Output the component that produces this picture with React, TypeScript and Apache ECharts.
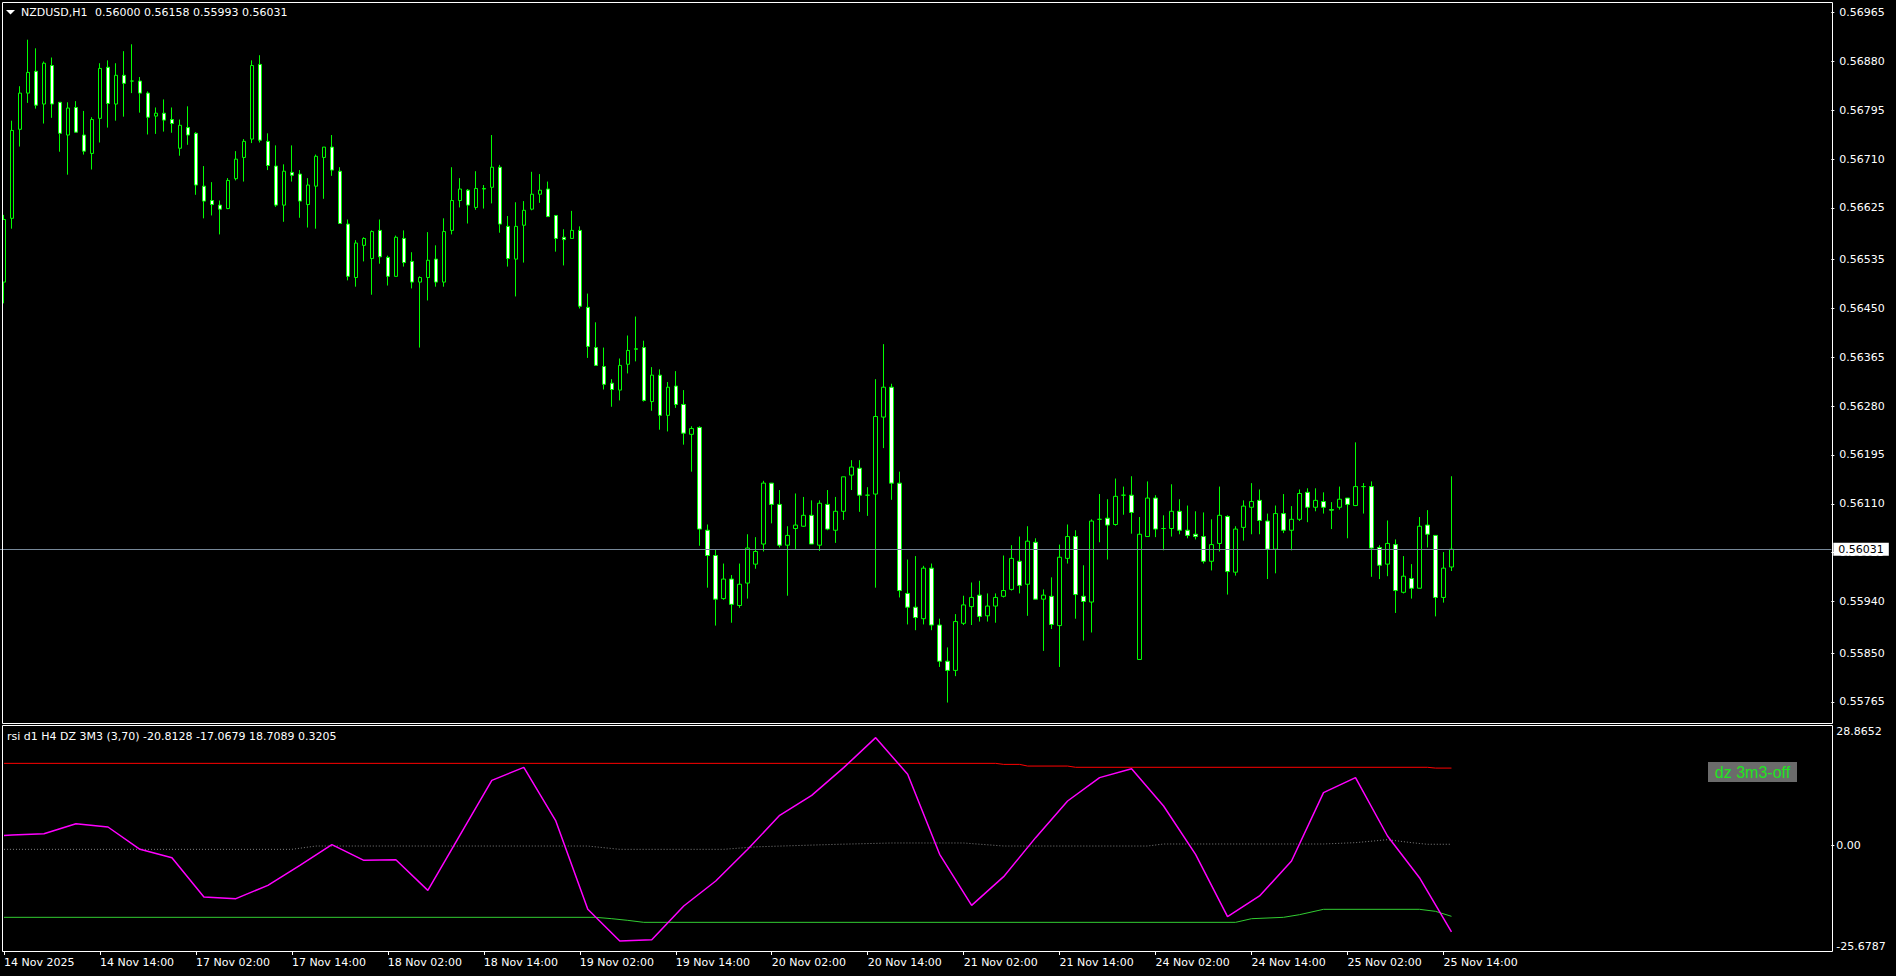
import React, { useEffect, useRef } from 'react';
import * as echarts from 'echarts';

// ---------- DATA ----------
const HEADER_SYMBOL = 'NZDUSD,H1';
const HEADER_OHLC = '0.56000 0.56158 0.55993 0.56031';
const IND_LABEL = 'rsi d1 H4 DZ 3M3 (3,70) -20.8128 -17.0679 18.7089 0.3205';
const BADGE_TEXT = 'dz 3m3-off';
const LAST_PRICE = 0.56031;

const TIME_LABELS = [
  '14 Nov 2025', '14 Nov 14:00', '17 Nov 02:00', '17 Nov 14:00', '18 Nov 02:00', '18 Nov 14:00',
  '19 Nov 02:00', '19 Nov 14:00', '20 Nov 02:00', '20 Nov 14:00', '21 Nov 02:00', '21 Nov 14:00',
  '24 Nov 02:00', '24 Nov 14:00', '25 Nov 02:00', '25 Nov 14:00',
];
const LABEL_STEP = 12;
const SLOT_COUNT = 229;

const PRICE_TICKS = [0.55765, 0.5585, 0.5594, 0.56025, 0.5611, 0.56195, 0.5628, 0.56365, 0.5645, 0.56535,
  0.56625, 0.5671, 0.56795, 0.5688, 0.56965];
const PRICE_MIN = 0.557279;
const PRICE_MAX = 0.569831;
const IND_MIN = -25.6787;
const IND_MAX = 28.8652;
const IND_TICKS = [IND_MIN, 0, IND_MAX];

const OPEN = [
  0.56496,0.56607,0.56762,0.56825,0.56863,0.56806,0.56873,0.56809,0.56752,0.56800,
  0.56752,0.56720,0.56781,0.56870,0.56806,0.56856,0.56846,0.56846,0.56825,0.56785,
  0.56790,0.56779,0.56729,0.56765,0.56755,0.56663,0.56638,0.56630,0.56624,0.56676,
  0.56713,0.56745,0.56875,0.56741,0.56698,0.56630,0.56687,0.56684,0.56631,0.56663,
  0.56713,0.56731,0.56689,0.56597,0.56504,0.56560,0.56537,0.56586,0.56539,0.56506,
  0.56572,0.56532,0.56496,0.56504,0.56536,0.56496,0.56586,0.56638,0.56656,0.56626,
  0.56658,0.56661,0.56696,0.56593,0.56536,0.56595,0.56623,0.56649,0.56658,0.56612,
  0.56574,0.56572,0.56586,0.56452,0.56382,0.56349,0.56320,0.56308,0.56353,0.56379,
  0.56382,0.56288,0.56334,0.56264,0.56315,0.56283,0.56231,0.56243,0.56064,0.56020,
  0.55945,0.55979,0.55933,0.55972,0.56005,0.56040,0.56146,0.56109,0.56038,0.56067,
  0.56071,0.56090,0.56038,0.56109,0.56064,0.56097,0.56160,0.56172,0.56125,0.56127,
  0.56261,0.56313,0.56146,0.55954,0.55930,0.55910,0.55998,0.55899,0.55836,0.55820,
  0.55902,0.55931,0.55951,0.55915,0.55932,0.55949,0.55961,0.56010,0.55970,0.56043,
  0.55944,0.55949,0.55898,0.56015,0.56053,0.55949,0.55939,0.56083,0.56085,0.56074,
  0.56125,0.56125,0.55839,0.56053,0.56120,0.56067,0.56067,0.56097,0.56064,0.56057,
  0.56053,0.56010,0.56041,0.56088,0.55991,0.56069,0.56104,0.56116,0.56080,0.56031,
  0.56093,0.56064,0.56083,0.56130,0.56104,0.56114,0.56100,0.56104,0.56120,0.56107,
  0.56140,0.56140,0.56034,0.56005,0.56039,0.55956,0.55980,0.55963,0.56073,0.56055,
  0.55947,0.56000,
];
const HIGH = [
  0.56613,0.56777,0.56837,0.56918,0.56903,0.56880,0.56887,0.56809,0.56809,0.56811,
  0.56794,0.56783,0.56877,0.56882,0.56877,0.56898,0.56910,0.56853,0.56828,0.56800,
  0.56814,0.56800,0.56779,0.56802,0.56757,0.56698,0.56670,0.56638,0.56677,0.56724,
  0.56745,0.56882,0.56891,0.56755,0.56734,0.56701,0.56734,0.56691,0.56677,0.56718,
  0.56731,0.56752,0.56696,0.56605,0.56569,0.56574,0.56586,0.56605,0.56542,0.56577,
  0.56586,0.56548,0.56506,0.56583,0.56560,0.56607,0.56696,0.56677,0.56658,0.56689,
  0.56665,0.56752,0.56700,0.56611,0.56635,0.56637,0.56688,0.56684,0.56671,0.56612,
  0.56588,0.56620,0.56593,0.56476,0.56426,0.56382,0.56327,0.56363,0.56403,0.56436,
  0.56394,0.56348,0.56344,0.56322,0.56341,0.56308,0.56245,0.56245,0.56074,0.56031,
  0.56006,0.55986,0.56006,0.56057,0.56052,0.56150,0.56146,0.56134,0.56071,0.56128,
  0.56122,0.56116,0.56116,0.56134,0.56122,0.56157,0.56186,0.56186,0.56139,0.56327,
  0.56388,0.56319,0.56166,0.56013,0.56019,0.56002,0.56006,0.55910,0.55860,0.55918,
  0.55950,0.55973,0.55976,0.55954,0.55954,0.56020,0.56038,0.56053,0.56071,0.56050,
  0.55961,0.55982,0.56039,0.56074,0.56064,0.56003,0.56083,0.56127,0.56118,0.56154,
  0.56140,0.56158,0.56087,0.56149,0.56125,0.56090,0.56144,0.56118,0.56107,0.56097,
  0.56095,0.56083,0.56140,0.56090,0.56071,0.56116,0.56146,0.56135,0.56093,0.56107,
  0.56127,0.56106,0.56135,0.56137,0.56137,0.56130,0.56113,0.56140,0.56120,0.56217,
  0.56146,0.56149,0.56038,0.56081,0.56048,0.56019,0.56005,0.56087,0.56099,0.56055,
  0.56026,0.56158,
];
const LOW = [
  0.56459,0.56589,0.56732,0.56808,0.56798,0.56772,0.56782,0.56723,0.56683,0.56757,
  0.56718,0.56692,0.56739,0.56765,0.56777,0.56784,0.56825,0.56791,0.56753,0.56754,
  0.56758,0.56756,0.56716,0.56735,0.56648,0.56607,0.56612,0.56579,0.56623,0.56673,
  0.56671,0.56738,0.56739,0.56691,0.56627,0.56601,0.56671,0.56608,0.56591,0.56589,
  0.56641,0.56681,0.56598,0.56499,0.56488,0.56532,0.56474,0.56528,0.56490,0.56506,
  0.56523,0.56485,0.56382,0.56464,0.56488,0.56488,0.56579,0.56626,0.56598,0.56622,
  0.56624,0.56633,0.56582,0.56523,0.56471,0.56530,0.56621,0.56634,0.56610,0.56549,
  0.56525,0.56572,0.56450,0.56364,0.56351,0.56309,0.56279,0.56290,0.56337,0.56358,
  0.56288,0.56272,0.56239,0.56236,0.56277,0.56213,0.56166,0.56037,0.55964,0.55898,
  0.55943,0.55903,0.55929,0.55945,0.55997,0.56027,0.56076,0.56034,0.55950,0.56031,
  0.56070,0.56040,0.56028,0.56064,0.56042,0.56082,0.56134,0.56096,0.56089,0.55964,
  0.56207,0.56117,0.55947,0.55900,0.55890,0.55900,0.55890,0.55826,0.55764,0.55810,
  0.55899,0.55899,0.55905,0.55905,0.55903,0.55947,0.55959,0.55954,0.55915,0.55944,
  0.55854,0.55892,0.55826,0.56006,0.55910,0.55872,0.55886,0.56043,0.56013,0.56072,
  0.56091,0.56058,0.55839,0.56053,0.56052,0.56029,0.56053,0.56057,0.56050,0.56048,
  0.56006,0.55994,0.56027,0.55952,0.55985,0.56046,0.56057,0.56057,0.55979,0.55989,
  0.56059,0.56029,0.56080,0.56078,0.56097,0.56093,0.56066,0.56100,0.56050,0.56106,
  0.56093,0.55983,0.55979,0.55984,0.55920,0.55954,0.55945,0.55963,0.56034,0.55914,
  0.55938,0.55993,
];
const CLOSE = [
  0.56605,0.56760,0.56825,0.56861,0.56804,0.56877,0.56806,0.56755,0.56799,0.56757,
  0.56724,0.56779,0.56868,0.56807,0.56856,0.56842,0.56846,0.56825,0.56783,0.56790,
  0.56778,0.56772,0.56769,0.56752,0.56665,0.56637,0.56631,0.56623,0.56673,0.56710,
  0.56741,0.56873,0.56743,0.56699,0.56630,0.56689,0.56682,0.56637,0.56665,0.56715,
  0.56731,0.56691,0.56598,0.56506,0.56564,0.56572,0.56584,0.56540,0.56506,0.56574,
  0.56530,0.56496,0.56504,0.56534,0.56496,0.56584,0.56638,0.56658,0.56630,0.56659,
  0.56659,0.56696,0.56597,0.56537,0.56593,0.56621,0.56649,0.56656,0.56610,0.56572,
  0.56570,0.56586,0.56454,0.56384,0.56351,0.56318,0.56309,0.56351,0.56377,0.56380,
  0.56290,0.56334,0.56264,0.56313,0.56283,0.56233,0.56241,0.56066,0.56020,0.55944,
  0.55979,0.55935,0.55970,0.56033,0.56027,0.56146,0.56109,0.56038,0.56055,0.56073,
  0.56090,0.56040,0.56111,0.56066,0.56097,0.56157,0.56174,0.56125,0.56125,0.56262,
  0.56313,0.56146,0.55959,0.55930,0.55912,0.55998,0.55899,0.55836,0.55820,0.55905,
  0.55934,0.55947,0.55914,0.55932,0.55947,0.55959,0.56015,0.55968,0.56045,0.55944,
  0.55951,0.55900,0.56017,0.56053,0.55952,0.55940,0.56080,0.56083,0.56073,0.56123,
  0.56125,0.56095,0.56057,0.56120,0.56066,0.56067,0.56097,0.56064,0.56055,0.56053,
  0.56010,0.56039,0.56090,0.55992,0.56066,0.56106,0.56114,0.56081,0.56031,0.56093,
  0.56064,0.56083,0.56128,0.56104,0.56116,0.56104,0.56099,0.56118,0.56109,0.56140,
  0.56140,0.56033,0.56003,0.56041,0.55959,0.55984,0.55963,0.56071,0.56057,0.55947,
  0.55998,0.56031,
];

// indicator (H4 values placed on H1 bar indices)
const RSI_X = [0, 1, 5, 9, 13, 17, 21, 25, 29, 33, 37, 41, 45, 49, 53, 57, 61, 65, 69, 73, 77, 81, 85, 89, 93,
  97, 101, 105, 109, 113, 117, 121, 125, 129, 133, 137, 141, 145, 149, 153, 157, 161, 165, 169, 173, 177, 181];
const RSI_V = [2.44, 2.56, 2.88, 5.29, 4.49, -0.9, -2.91, -12.4, -12.81, -9.59, -4.76, 0.22, -3.56, -3.4, -10.8,
  2.48, 15.75, 18.89, 5.94, -15.38, -23.02, -22.7, -14.58, -8.54, -0.9, 7.31, 12.13, 18.81, 26.05, 17.2, -2.11,
  -14.42, -7.5, 1.92, 10.76, 16.4, 18.56, 9.56, -2.11, -17.15, -12.16, -3.72, 12.77, 16.4, 2.32, -7.74, -20.8128];

const UPPER_X = [0, 124, 125, 127, 128, 133, 134, 178, 179, 181];
const UPPER_V = [19.85, 19.85, 19.6, 19.6, 19.2, 19.2, 18.9, 18.9, 18.7089, 18.7089];

const LOWER_X = [0, 74, 76, 78, 80, 154, 156, 160, 162, 165, 177, 179, 181];
const LOWER_V = [-17.31, -17.31, -17.64, -18.04, -18.52, -18.52, -17.64, -17.31, -16.67, -15.38, -15.38, -15.86, -17.0679];

const MID_X = [0, 36, 39, 73, 77, 90, 94, 104, 111, 120, 125, 143, 145, 165, 169, 173, 176, 178, 181];
const MID_V = [-0.9, -0.9, -0.1, -0.1, -0.9, -0.9, -0.3, 0.3, 0.63, 0.63, -0.1, -0.1, 0.39, 0.39, 0.71, 1.43, 0.71, 0.3205, 0.3205];

// ---------- HELPERS ----------
const MONTHS = ['Jan', 'Feb', 'Mar', 'Apr', 'May', 'Jun', 'Jul', 'Aug', 'Sep', 'Oct', 'Nov', 'Dec'];
function buildCategories(count: number): string[] {
  const out: string[] = [];
  let t = Date.UTC(2025, 10, 14, 2);
  while (out.length < count) {
    const d = new Date(t);
    const wd = d.getUTCDay();
    if (wd !== 0 && wd !== 6) {
      const hh = String(d.getUTCHours()).padStart(2, '0');
      out.push(`${d.getUTCDate()} ${MONTHS[d.getUTCMonth()]} ${hh}:00`);
    }
    t += 3600000;
  }
  return out;
}

const FONT = 'DejaVu Sans';

export default function App() {
  const ref = useRef<HTMLDivElement>(null);

  useEffect(() => {
    if (!ref.current) return;
    const chart = echarts.init(ref.current, null, { renderer: 'svg' });
    const cats = buildCategories(SLOT_COUNT);
    const candles = OPEN.map((o, i) => [o, CLOSE[i], LOW[i], HIGH[i]]);
    const pairs = (xs: number[], vs: number[]) => xs.map((x, i) => [x, vs[i]]);
    const isLabelIdx = (idx: number) => idx % LABEL_STEP === 0 && idx / LABEL_STEP < TIME_LABELS.length;
    const lastIdx = CLOSE.length - 1;

    const option: any = {
      animation: false,
      backgroundColor: '#000',
      grid: [
        { left: -0.67, right: 64.67, top: 2.3, height: 721 },
        { left: -0.67, right: 64.67, top: 726, height: 226 },
      ],
      xAxis: [
        {
          type: 'category', gridIndex: 0, data: cats, boundaryGap: true,
          axisLine: { show: false, onZero: false }, axisTick: { show: false }, axisLabel: { show: false }, splitLine: { show: false },
        },
        {
          type: 'category', gridIndex: 1, data: cats, boundaryGap: true,
          axisLine: { show: false, onZero: false },
          axisTick: {
            show: true, alignWithLabel: true, length: 3,
            interval: (idx: number) => isLabelIdx(idx),
            lineStyle: { color: '#fff', width: 1 },
          },
          axisLabel: {
            show: true,
            interval: (idx: number) => isLabelIdx(idx),
            formatter: (_v: string, idx: number) => TIME_LABELS[Math.round(idx / LABEL_STEP)] || '',
            align: 'left', color: '#fff', fontSize: 11, fontFamily: FONT, margin: 5,
          },
          splitLine: { show: false },
        },
      ],
      yAxis: [
        {
          type: 'value', gridIndex: 0, position: 'right', min: PRICE_MIN, max: PRICE_MAX, scale: true,
          splitLine: { show: false }, axisLine: { show: false },
          axisTick: { show: true, length: 3, customValues: PRICE_TICKS, lineStyle: { color: '#fff' } },
          axisLabel: {
            customValues: PRICE_TICKS, formatter: (v: number) => v.toFixed(5),
            color: '#fff', fontSize: 11, fontFamily: FONT, margin: 8,
          },
        },
        {
          type: 'value', gridIndex: 1, position: 'right', min: IND_MIN, max: IND_MAX,
          splitLine: { show: false }, axisLine: { show: false },
          axisTick: { show: true, length: 3, customValues: [0], lineStyle: { color: '#fff' } },
          axisLabel: {
            customValues: IND_TICKS,
            formatter: (v: number) => (Math.abs(v) < 1e-9 ? '0.00' : v.toFixed(4)),
            color: '#fff', fontSize: 11, fontFamily: FONT, margin: 5,
            verticalAlignMaxLabel: 'top', verticalAlignMinLabel: 'bottom',
          },
        },
      ],
      series: [
        {
          type: 'candlestick', xAxisIndex: 0, yAxisIndex: 0, data: candles, barWidth: 4,
          itemStyle: {
            color: '#000', color0: '#fff', borderColor: '#00ff00', borderColor0: '#00ff00',
            borderColorDoji: '#00ff00', borderWidth: 1,
          },
          emphasis: { disabled: true },
          z: 3,
        },
        {
          // bid line holder (carries the horizontal last-price marker)
          type: 'line', xAxisIndex: 0, yAxisIndex: 0, data: [[lastIdx, LAST_PRICE]],
          showSymbol: false, symbol: 'none', lineStyle: { width: 0 }, z: 2,
          emphasis: { disabled: true }, silent: true,
          markLine: {
            silent: true, symbol: ['none', 'none'], animation: false, precision: 5,
            data: [{ yAxis: LAST_PRICE }],
            lineStyle: { color: '#778899', width: 1, type: 'solid' },
            label: {
              show: true, position: 'end', distance: 2,
              formatter: LAST_PRICE.toFixed(5),
              backgroundColor: '#fff', color: '#000', padding: [1, 5, 1, 5],
              fontSize: 11, fontFamily: FONT,
            },
          },
        },
        {
          type: 'line', xAxisIndex: 1, yAxisIndex: 1, data: pairs(UPPER_X, UPPER_V),
          showSymbol: false, lineStyle: { color: '#ff0000', width: 1 }, emphasis: { disabled: true },
        },
        {
          type: 'line', xAxisIndex: 1, yAxisIndex: 1, data: pairs(LOWER_X, LOWER_V),
          showSymbol: false, lineStyle: { color: '#32cd32', width: 1 }, emphasis: { disabled: true },
        },
        {
          type: 'line', xAxisIndex: 1, yAxisIndex: 1, data: pairs(MID_X, MID_V),
          showSymbol: false, lineStyle: { color: '#808080', width: 1, type: [1, 2] }, emphasis: { disabled: true },
        },
        {
          type: 'line', xAxisIndex: 1, yAxisIndex: 1, data: pairs(RSI_X, RSI_V),
          showSymbol: false, lineStyle: { color: '#ff00ff', width: 1.5 }, emphasis: { disabled: true },
        },
      ],
      graphic: [
        {
          type: 'rect', z: 100, silent: true,
          shape: { x: 2.5, y: 2.5, width: 1830, height: 721 },
          style: { fill: 'none', stroke: '#fff', lineWidth: 1 },
        },
        {
          type: 'rect', z: 100, silent: true,
          shape: { x: 2.5, y: 725.5, width: 1830, height: 226 },
          style: { fill: 'none', stroke: '#fff', lineWidth: 1 },
        },
        {
          type: 'polygon', z: 100, silent: true,
          shape: { points: [[6, 10], [15, 10], [10.5, 14.5]] },
          style: { fill: '#fff' },
        },
        {
          type: 'text', z: 100, x: 21, y: 12.5, silent: true,
          style: { text: HEADER_SYMBOL, fill: '#fff', fontSize: 11, fontFamily: FONT, verticalAlign: 'middle', align: 'left' },
        },
        {
          type: 'text', z: 100, x: 95, y: 12.5, silent: true,
          style: { text: HEADER_OHLC, fill: '#fff', fontSize: 11, fontFamily: FONT, verticalAlign: 'middle', align: 'left' },
        },
        {
          type: 'text', z: 100, x: 7, y: 736, silent: true,
          style: { text: IND_LABEL, fill: '#fff', fontSize: 11, fontFamily: FONT, verticalAlign: 'middle', align: 'left' },
        },
        {
          type: 'rect', z: 100, silent: true,
          shape: { x: 1708, y: 762, width: 89, height: 20 },
          style: { fill: '#6b6b6b' },
        },
        {
          type: 'text', z: 101, x: 1752.5, y: 772.5, silent: true,
          style: { text: BADGE_TEXT, fill: '#1ee61e', fontSize: 16, fontFamily: 'Liberation Sans', verticalAlign: 'middle', align: 'center' },
        },
      ],
    };
    chart.setOption(option);
    return () => chart.dispose();
  }, []);

  return (
    <div style={{ position: 'fixed', left: 0, top: 0, width: 1896, height: 976, background: '#000' }}>
      <div ref={ref} style={{ width: 1896, height: 976 }} />
    </div>
  );
}
